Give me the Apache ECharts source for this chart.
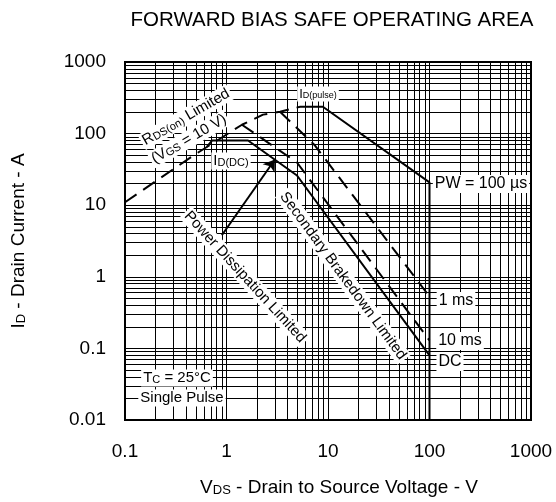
<!DOCTYPE html>
<html>
<head>
<meta charset="utf-8">
<script src="https://cdn.jsdelivr.net/npm/echarts@6/dist/echarts.min.js"></script>
<style>
html, body { margin: 0; padding: 0; background: #fff; }
#chart { width: 556px; height: 502px; }
</style>
</head>
<body>
<div id="chart"></div>
<script>
// axis ranges and grid
var xRange = [0.1, 1000]
var yRange = [0.01, 1000]
var minorSteps = [2, 3, 4, 5, 6, 7, 8, 9]
var xDecades = [0.1, 1, 10, 100]
var yDecades = [0.01, 0.1, 1, 10, 100]

// curves, [VDS (V), ID (A)]
var rdsLimit = [[0.1, 11], [0.457, 48], [1.42, 133], [2.29, 184], [3.37, 202], [5.3, 237]]
var pw100us = [[5.3, 237], [8.9, 237], [100, 20.8], [100, 0.01]]
var pw1ms = [[3.37, 202], [7.45, 68], [100, 0.53]]
var pw10ms = [[1.42, 133], [4.95, 39.5], [100, 0.129]]
var dcLine = [[0.64, 65], [0.72, 80], [1.63, 80], [4.95, 26], [100, 0.08]]
var arrowLine = [[0.9, 3.8], [3.0, 43.5]]

var FONT = "'Liberation Sans', Arial, sans-serif"

var minorX = []
xDecades.forEach(function (d) {
    minorSteps.forEach(function (m) { minorX.push({ xAxis: +(d * m).toPrecision(3) }) })
})
var minorY = []
yDecades.forEach(function (d) {
    minorSteps.forEach(function (m) { minorY.push({ yAxis: +(d * m).toPrecision(3) }) })
})

var tickText = function (v) {
    return String(+(+v).toPrecision(3))
}

var curve = function (name, data, dashed) {
    return {
        name: name,
        type: 'line',
        data: data,
        symbol: 'none',
        silent: true,
        z: 5,
        lineStyle: {
            color: '#000',
            width: 2,
            type: dashed ? [14, 8] : 'solid'
        }
    }
}

// small helper for the annotation texts
var note = function (x, y, text, size, deg, bg) {
    return {
        type: 'text',
        x: x,
        y: y,
        rotation: (deg || 0) * Math.PI / 180,
        z: 100,
        silent: true,
        style: {
            text: text,
            fill: '#000',
            font: size + 'px ' + FONT,
            align: 'center',
            verticalAlign: 'middle',
            backgroundColor: bg === false ? null : '#fff',
            padding: [1, 2],
            rich: {
                n: { fontSize: size, fontFamily: FONT, fill: '#000' },
                s: { fontSize: Math.round(size * 0.7), fontFamily: FONT, fill: '#000', padding: [4, 0, 0, 0] }
            }
        }
    }
}

var chart = echarts.init(document.getElementById('chart'))
var option = {
    animation: false,
    backgroundColor: '#fff',
    grid: {
        left: 125,
        top: 62,
        right: 25,
        bottom: 80,
        show: true,
        borderColor: '#000',
        borderWidth: 2
    },
    xAxis: {
        type: 'log',
        logBase: 10,
        min: xRange[0],
        max: xRange[1],
        name: '{n|V}{s|DS}{n| - Drain to Source Voltage - V}',
        nameLocation: 'middle',
        nameGap: 58,
        nameTextStyle: {
            padding: [0, 0, 0, 22],
            rich: {
                n: { fontSize: 19, fontFamily: FONT, color: '#000' },
                s: { fontSize: 13, fontFamily: FONT, color: '#000', padding: [5, 0, 0, 0] }
            }
        },
        axisLine: { show: true, lineStyle: { color: '#000', width: 2 } },
        axisTick: { show: false },
        splitLine: { show: true, lineStyle: { color: '#000', width: 1 } },
        axisLabel: {
            fontSize: 19,
            fontFamily: FONT,
            color: '#000',
            margin: 22,
            formatter: tickText
        }
    },
    yAxis: {
        type: 'log',
        logBase: 10,
        min: yRange[0],
        max: yRange[1],
        name: '{n|I}{s|D}{n| - Drain Current - A}',
        nameLocation: 'middle',
        nameRotate: 90,
        nameGap: 97,
        nameTextStyle: {
            rich: {
                n: { fontSize: 19, fontFamily: FONT, color: '#000' },
                s: { fontSize: 13, fontFamily: FONT, color: '#000', padding: [5, 0, 0, 0] }
            }
        },
        axisLine: { show: true, lineStyle: { color: '#000', width: 2 } },
        axisTick: { show: false },
        splitLine: { show: true, lineStyle: { color: '#000', width: 1 } },
        axisLabel: {
            fontSize: 19,
            fontFamily: FONT,
            color: '#000',
            margin: 19,
            formatter: tickText
        }
    },
    series: [
        {
            name: 'grid',
            type: 'line',
            data: [],
            silent: true,
            z: 1,
            markLine: {
                silent: true,
                symbol: ['none', 'none'],
                label: { show: false },
                emphasis: { disabled: true },
                lineStyle: { color: '#000', width: 1, type: 'solid' },
                data: minorX.concat(minorY)
            }
        },
        curve('RDS(on) Limited', rdsLimit, true),
        curve('100 us', pw100us, false),
        curve('1 ms', pw1ms, true),
        curve('10 ms', pw10ms, true),
        curve('DC', dcLine, false),
        {
            name: 'arrow',
            type: 'line',
            data: [],
            silent: true,
            markLine: {
                silent: true,
                symbol: ['none', 'arrow'],
                symbolSize: 11,
                label: { show: false },
                emphasis: { disabled: true },
                lineStyle: { color: '#000', width: 2, type: 'solid' },
                data: [[{ coord: arrowLine[0] }, { coord: arrowLine[1] }]]
            }
        }
    ],
    graphic: [
        note(332, 20, 'FORWARD BIAS SAFE OPERATING AREA', 20.5, 0, false),
        note(186, 117, '{n|R}{s|DS(on)}{n| Limited}', 15, 30),
        note(189, 139, '{n|(V}{s|GS}{n| = 10 V)}', 15, 30),
        note(318, 94, '{n|I}{s|D(pulse)}', 13, 0),
        note(231, 161, '{n|I}{s|D(DC)}', 15, 0),
        note(481, 184, 'PW = 100 \u00b5s', 16, 0),
        note(456, 301, '1 ms', 16, 0),
        note(460, 341, '10 ms', 16, 0),
        note(450, 362, 'DC', 16, 0),
        note(245, 277, 'Power Dissipation Limited', 15, -47.5),
        note(343, 276, 'Secondary Brakedown Limited', 15, -53.8),
        note(177, 378, '{n|T}{s|C}{n| = 25\u00b0C}', 15, 0),
        note(182, 398, 'Single Pulse', 15, 0)
    ]
}
chart.setOption(option)
</script>
</body>
</html>
